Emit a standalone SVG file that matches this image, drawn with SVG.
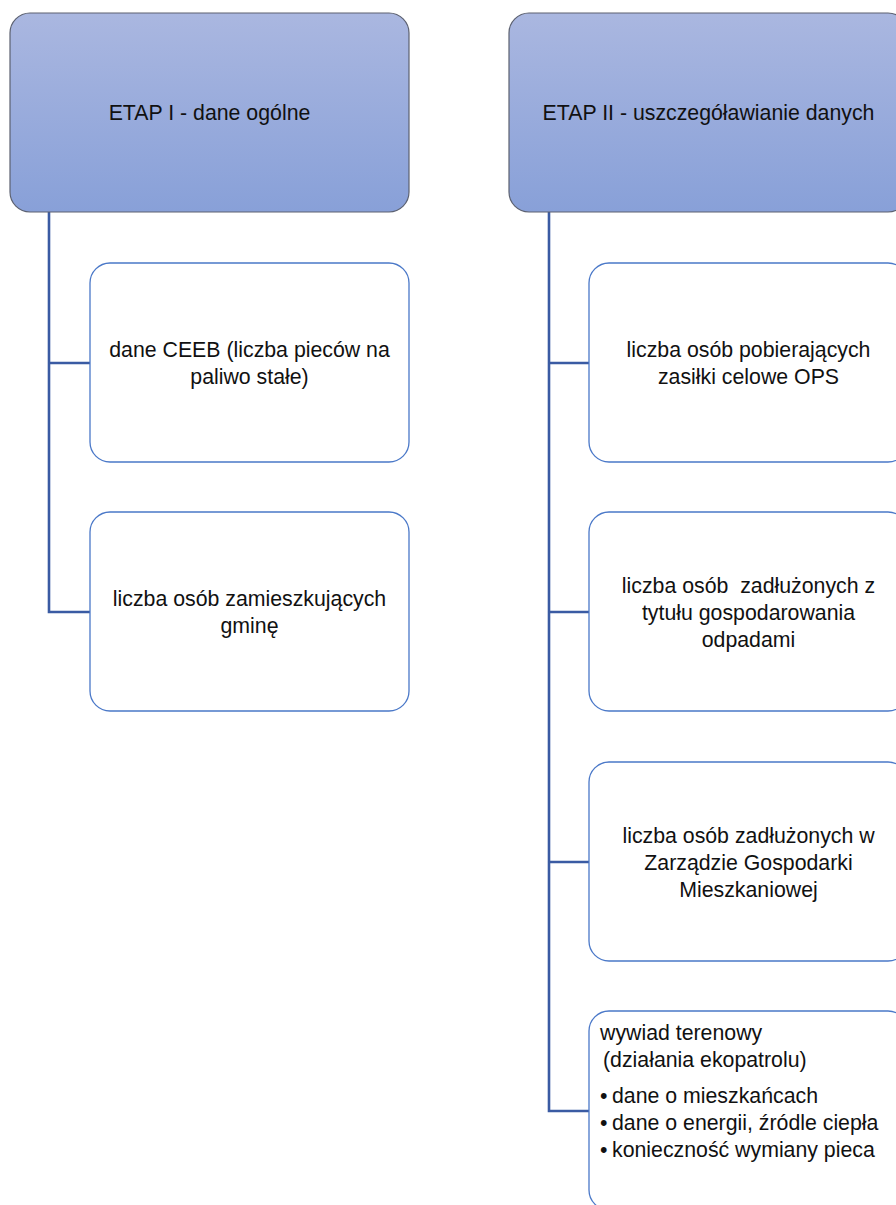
<svg xmlns="http://www.w3.org/2000/svg" width="896" height="1205" viewBox="0 0 896 1205">
<defs>
<linearGradient id="hdr" x1="0" y1="0" x2="0" y2="1">
<stop offset="0" stop-color="#aab7e0"/>
<stop offset="1" stop-color="#88a0d8"/>
</linearGradient>
<style>
.hdr{fill:url(#hdr);stroke:#5c6170;stroke-width:1.2}
.box{fill:#ffffff;stroke:#4a78c8;stroke-width:1.3}
.con{fill:none;stroke:#3a5ba3;stroke-width:2.6}
text{font-family:"Liberation Sans",Arial,sans-serif;font-size:21.3px;fill:#111111}
.c{text-anchor:middle}
.pre{white-space:pre}
</style>
</defs>
<rect width="896" height="1205" fill="#ffffff"/>
<g id="connectors">
<path class="con" d="M49,212 V612 H90 M49,363 H90"/>
<path class="con" d="M549,212 V1111 H589 M549,363 H589 M549,612 H589 M549,862 H589"/>
</g>
<g id="etap1">
<rect class="hdr" x="10" y="13" width="399" height="199" rx="20"/>
<text class="c" x="209.5" y="120">ETAP I - dane ogólne</text>
</g>
<g id="etap2">
<rect class="hdr" x="509" y="13" width="399" height="199" rx="20"/>
<text class="c" x="708.5" y="120">ETAP II - uszczegóławianie danych</text>
</g>
<g id="ceeb">
<rect class="box" x="90" y="263" width="319" height="199" rx="20"/>
<text class="c" x="249.5" y="357">dane CEEB (liczba pieców na</text>
<text class="c" x="249.5" y="384">paliwo stałe)</text>
</g>
<g id="mieszkancy">
<rect class="box" x="90" y="512" width="319" height="199" rx="20"/>
<text class="c" x="249.5" y="606">liczba osób zamieszkujących</text>
<text class="c" x="249.5" y="633">gminę</text>
</g>
<g id="ops">
<rect class="box" x="589" y="263" width="319" height="199" rx="20"/>
<text class="c" x="748.5" y="357">liczba osób pobierających</text>
<text class="c" x="748.5" y="384">zasiłki celowe OPS</text>
</g>
<g id="odpady">
<rect class="box" x="589" y="512" width="319" height="199" rx="20"/>
<text class="c pre" x="748.5" y="593" xml:space="preserve">liczba osób  zadłużonych z</text>
<text class="c" x="748.5" y="620">tytułu gospodarowania</text>
<text class="c" x="748.5" y="647">odpadami</text>
</g>
<g id="zgm">
<rect class="box" x="589" y="762" width="319" height="199" rx="20"/>
<text class="c" x="748.5" y="843">liczba osób zadłużonych w</text>
<text class="c" x="748.5" y="870">Zarządzie Gospodarki</text>
<text class="c" x="748.5" y="897">Mieszkaniowej</text>
</g>
<g id="wywiad">
<rect class="box" x="589" y="1011" width="319" height="199" rx="20"/>
<text x="600" y="1040">wywiad terenowy</text>
<text x="603" y="1067">(działania ekopatrolu)</text>
<text x="600" y="1103">•</text><text x="612" y="1103">dane o mieszkańcach</text>
<text x="600" y="1130">•</text><text x="612" y="1130">dane o energii, źródle ciepła</text>
<text x="600" y="1157">•</text><text x="612" y="1157">konieczność wymiany pieca</text>
</g>
</svg>
